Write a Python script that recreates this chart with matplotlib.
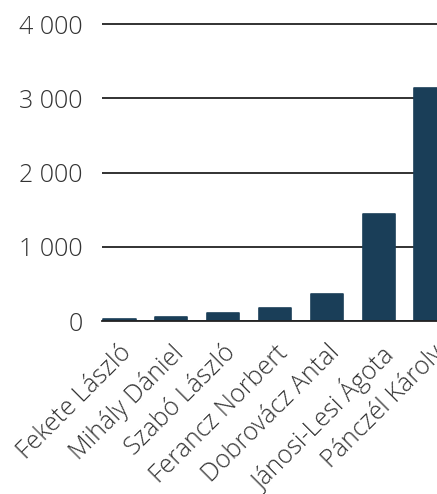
import matplotlib.pyplot as plt
from matplotlib.ticker import FuncFormatter

plt.rcParams['font.family'] = ['Open Sans', 'DejaVu Sans']
plt.rcParams['font.weight'] = 'light'

names = ['Fekete László', 'Mihály Dániel', 'Szabó László', 'Ferancz Norbert',
         'Dobrovácz Antal', 'Jánosi-Lesi Ágota', 'Pánczél Károly']
values = [25, 55, 110, 170, 360, 1440, 3145]
yticks = [0, 1000, 2000, 3000, 4000]

bar_color = '#1a3e58'

fig = plt.figure(figsize=(4.37, 4.94), dpi=100)
# axes runs off the right edge, like the cropped original
ax = fig.add_axes([102 / 437, 173 / 494, 360 / 437, 299 / 494])

x = range(len(names))
ax.bar(x, values, width=0.63, color=bar_color, edgecolor=bar_color,
       linewidth=1.2, joinstyle='round', zorder=3)

ax.set_ylim(0, 4030)
ax.set_xlim(-0.33, 6.6)
ax.set_yticks(yticks)
ax.yaxis.set_major_formatter(FuncFormatter(lambda v, p: f'{int(v):,}'.replace(',', ' ')))
ax.grid(axis='y', color='#222222', linewidth=1.3, zorder=0)
ax.tick_params(axis='y', length=0, pad=14, labelsize=18, labelcolor='#333333')
ax.tick_params(axis='x', length=0, pad=14, labelsize=18, labelcolor='#333333')

ax.set_xticks(list(x))
ax.set_xticklabels(names, rotation=45, ha='right', va='top', rotation_mode='anchor')

for s in ['top', 'right', 'left']:
    ax.spines[s].set_visible(False)
ax.spines['bottom'].set_color('#222222')
ax.spines['bottom'].set_linewidth(1.3)
ax.spines['bottom'].set_zorder(4)

fig.savefig('out.png', dpi=100)
